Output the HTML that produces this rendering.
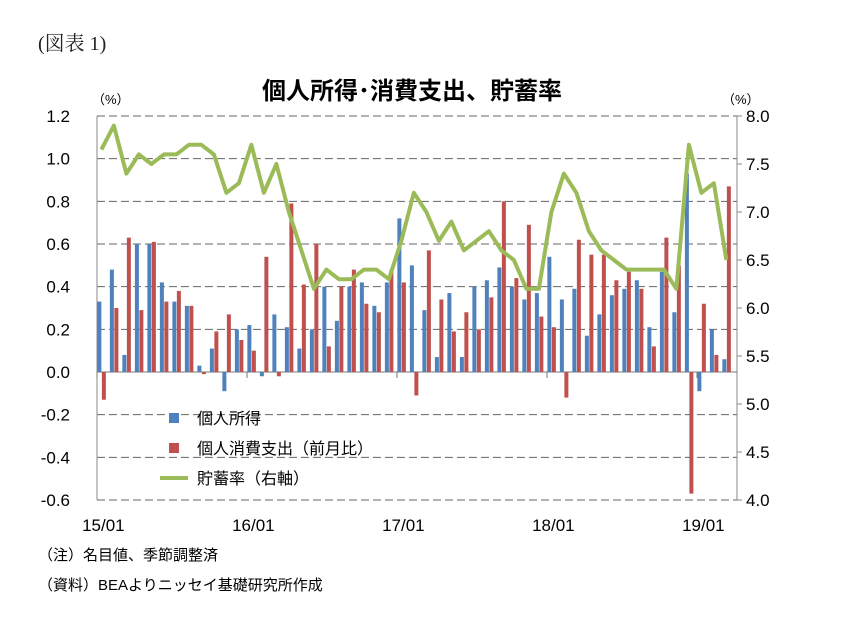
<!DOCTYPE html>
<html><head><meta charset="utf-8"><style>
body{margin:0;background:#fff;font-family:"Liberation Sans","Noto Sans CJK JP",sans-serif;}
#wrap{position:relative;width:843px;height:622px;overflow:hidden;}
</style></head><body>
<div id="wrap">
<svg id="chart" width="843" height="622"></svg>
</div>
<script>
const months = ["15/01","15/02","15/03","15/04","15/05","15/06","15/07","15/08","15/09","15/10","15/11","15/12","16/01","16/02","16/03","16/04","16/05","16/06","16/07","16/08","16/09","16/10","16/11","16/12","17/01","17/02","17/03","17/04","17/05","17/06","17/07","17/08","17/09","17/10","17/11","17/12","18/01","18/02","18/03","18/04","18/05","18/06","18/07","18/08","18/09","18/10","18/11","18/12","19/01","19/02","19/03"];
const income = [0.33,0.48,0.08,0.60,0.60,0.42,0.33,0.31,0.03,0.11,-0.09,0.20,0.22,-0.02,0.27,0.21,0.11,0.20,0.40,0.24,0.40,0.42,0.31,0.42,0.72,0.50,0.29,0.07,0.37,0.07,0.40,0.43,0.49,0.40,0.34,0.37,0.54,0.34,0.39,0.17,0.27,0.36,0.39,0.43,0.21,0.47,0.28,0.93,-0.09,0.20,0.06];
const consumption = [-0.13,0.30,0.63,0.29,0.61,0.33,0.38,0.31,-0.01,0.19,0.27,0.15,0.10,0.54,-0.02,0.79,0.41,0.60,0.12,0.40,0.48,0.32,0.28,0.48,0.42,-0.11,0.57,0.34,0.19,0.28,0.20,0.35,0.80,0.44,0.69,0.26,0.21,-0.12,0.62,0.55,0.55,0.43,0.47,0.39,0.12,0.63,0.50,-0.57,0.32,0.08,0.87];
const savings = [7.65,7.9,7.4,7.6,7.5,7.6,7.6,7.7,7.7,7.6,7.2,7.3,7.7,7.2,7.5,7.0,6.6,6.2,6.4,6.3,6.3,6.4,6.4,6.3,6.7,7.2,7.0,6.7,6.9,6.6,6.7,6.8,6.6,6.5,6.2,6.2,7.0,7.4,7.2,6.8,6.6,6.5,6.4,6.4,6.4,6.4,6.2,7.7,7.2,7.3,6.5];
const leftTicks = ["1.2","1.0","0.8","0.6","0.4","0.2","0.0","-0.2","-0.4","-0.6"];
const rightTicks = ["8.0","7.5","7.0","6.5","6.0","5.5","5.0","4.5","4.0"];
const xLabels = ["15/01","16/01","17/01","18/01","19/01"];

const NS="http://www.w3.org/2000/svg";
const svg=document.getElementById('chart');
const X0=97,X1=737,YT=116,YB=500;
const step=12.5;
function yL(v){return YT+(1.2-v)/1.8*(YB-YT);}
function yR(v){return YT+(8-v)/4*(YB-YT);}
function xC(i){return X0+step*(i+0.35);}
function mk(tag,attrs,name,text){const e=document.createElementNS(NS,tag);for(const k in attrs)e.setAttribute(k,attrs[k]);


if(text!==undefined)e.textContent=text;svg.appendChild(e);return e;}

mk('text',{x:38,y:50,'font-size':20,'font-family':'"Liberation Serif","Noto Serif CJK SC",serif',fill:'#222'},'figure-number','(図表 1)');
mk('text',{x:412,y:99,'font-size':24,'font-weight':'bold','text-anchor':'middle',fill:'#000'},'chart-title','個人所得･消費支出、貯蓄率');
mk('text',{x:92,y:104,'font-size':13,fill:'#000'},'left-unit','（%）');
mk('text',{x:722,y:104,'font-size':13,fill:'#000'},'right-unit','（%）');

leftTicks.forEach(t=>{const v=parseFloat(t);const y=yL(v);
 if(v!==0) mk('line',{x1:X0,x2:X1,y1:y,y2:y,stroke:'#666','stroke-dasharray':'8,4','stroke-width':1},'gridline');
 mk('text',{x:70,y:y+6,'font-size':17,'text-anchor':'end',fill:'#000'},'left-tick-label',t);});
rightTicks.forEach(t=>{const v=parseFloat(t);const y=yR(v);
 mk('line',{x1:X1,x2:X1+5,y1:y,y2:y,stroke:'#888'},'right-tick');
 mk('text',{x:746,y:y+6,'font-size':17,fill:'#000'},'right-tick-label',t);});
mk('line',{x1:X0,x2:X0,y1:YT,y2:YB,stroke:'#888'},'left-axis');
mk('line',{x1:X1,x2:X1,y1:YT,y2:YB,stroke:'#888'},'right-axis');
mk('line',{x1:X0,x2:X1,y1:yL(0),y2:yL(0),stroke:'#777'},'x-axis');

income.forEach((v,i)=>{const y0=yL(0),y=yL(v);
 mk('rect',{x:xC(i)-4,y:Math.min(y,y0),width:4,height:Math.abs(y-y0),fill:'#4F81BD'},'income-bar-'+months[i]);});
consumption.forEach((v,i)=>{const y0=yL(0),y=yL(v);
 mk('rect',{x:xC(i)+0.5,y:Math.min(y,y0),width:4,height:Math.abs(y-y0),fill:'#C0504D'},'consumption-bar-'+months[i]);});
const pts=savings.map((v,i)=>xC(i)+','+yR(v)).join(' ');
mk('polyline',{points:pts,fill:'none',stroke:'#9BBB59','stroke-width':4,'stroke-linejoin':'round'},'savings-rate-line');

xLabels.forEach(l=>{const i=months.indexOf(l);
 mk('text',{x:xC(i)+2,y:531,'font-size':17,'text-anchor':'middle',fill:'#000'},'x-tick-label',l);
 mk('line',{x1:X0+step*i,x2:X0+step*i,y1:yL(0),y2:yL(0)+6,stroke:'#777'},'x-tick');});

const lg=[['#4F81BD','個人所得','rect'],['#C0504D','個人消費支出（前月比）','rect'],['#9BBB59','貯蓄率（右軸）','line']];
lg.forEach((d,k)=>{const y=419+k*30;
 if(d[2]==='rect') mk('rect',{x:169,y:y-6,width:10,height:10,fill:d[0]},'legend-swatch');
 else mk('line',{x1:160,x2:188,y1:y-1,y2:y-1,stroke:d[0],'stroke-width':4},'legend-swatch');
 mk('text',{x:197,y:y+5,'font-size':16,fill:'#000'},'legend-entry',d[1]);});

mk('text',{x:38,y:560,'font-size':15,fill:'#000'},'footnote-note','（注）名目値、季節調整済');
mk('text',{x:38,y:590,'font-size':15,fill:'#000'},'footnote-source','（資料）BEAよりニッセイ基礎研究所作成');
</script>
</body></html>
